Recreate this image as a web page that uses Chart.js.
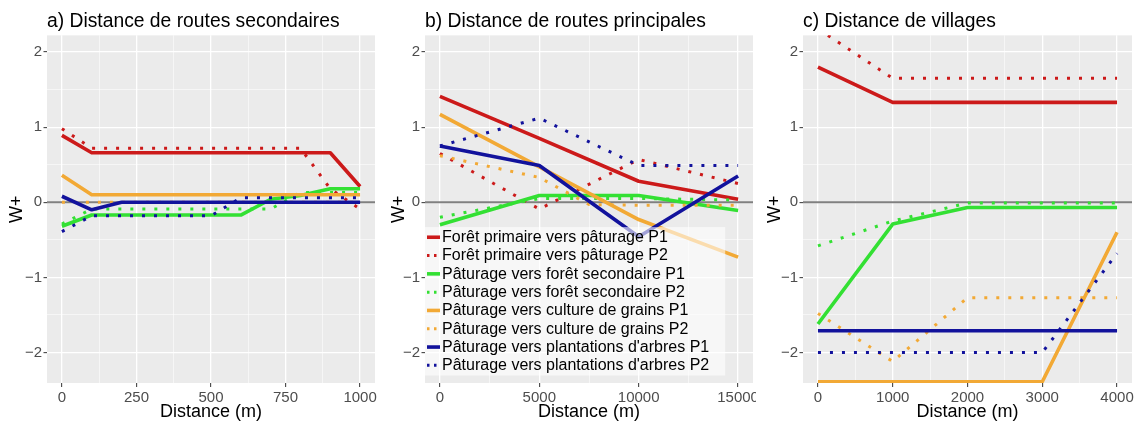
<!DOCTYPE html>
<html lang="fr">
<head>
<meta charset="utf-8">
<title>Poids d'évidence W+ selon la distance</title>
<script src="https://cdn.jsdelivr.net/npm/chart.js@4.4.1/dist/chart.umd.min.js"></script>
<style>
  html, body { margin: 0; padding: 0; background: #ffffff; }
  #wrap { position: relative; width: 1139px; height: 424px; overflow: hidden; }
  #wrap canvas { position: absolute; top: 0; }
</style>
</head>
<body>
<div id="wrap">
  <canvas id="panelA" width="380" height="424" style="left:0px"></canvas>
  <canvas id="panelB" width="374" height="424" style="left:382px"></canvas>
  <canvas id="panelC" width="381" height="424" style="left:758px"></canvas>
</div>
<script>
// ---- Series labels and styles ----
const seriesLabels = [
  "Forêt primaire vers pâturage P1",
  "Forêt primaire vers pâturage P2",
  "Pâturage vers forêt secondaire P1",
  "Pâturage vers forêt secondaire P2",
  "Pâturage vers culture de grains P1",
  "Pâturage vers culture de grains P2",
  "Pâturage vers plantations d'arbres P1",
  "Pâturage vers plantations d'arbres P2"
];
const seriesColors = ["#CC1A1A", "#CC1A1A", "#33E033", "#33E033", "#F2A935", "#F2A935", "#12129C", "#12129C"];

// ---- Shared W+ axis ----
const yTicks = [-2, -1, 0, 1, 2];
const yMinor = [-1.5, -0.5, 0.5, 1.5];
const yRange = [-2.406, 2.222];

// ---- a) Distance de routes secondaires : [distance (m), W+] ----
const xTicksA = [0, 250, 500, 750, 1000];
const a_fpP1  = [[0, 0.89], [100, 0.66], [900, 0.66], [1000, 0.21]];
const a_fpP2  = [[0, 0.98], [100, 0.72], [800, 0.72], [900, 0.18], [1000, -0.09]];
const a_pfsP1 = [[0, -0.32], [100, -0.17], [600, -0.17], [700, 0.04], [800, 0.09], [900, 0.18], [1000, 0.18]];
const a_pfsP2 = [[0, -0.29], [100, -0.09], [700, -0.09], [800, 0.13], [1000, 0.13]];
const a_pcgP1 = [[0, 0.36], [100, 0.10], [1000, 0.10]];
const a_pcgP2 = [[0, 0.00], [1000, 0.00]];
const a_ppaP1 = [[0, 0.08], [100, -0.10], [200, 0.00], [1000, 0.00]];
const a_ppaP2 = [[0, -0.39], [100, -0.18], [500, -0.18], [600, 0.06], [1000, 0.06]];

// ---- b) Distance de routes principales ----
const xTicksB = [0, 5000, 10000, 15000];
const b_fpP1  = [[0, 1.41], [5000, 0.85], [10000, 0.28], [15000, 0.04]];
const b_fpP2  = [[0, 0.65], [5000, -0.09], [10000, 0.57], [15000, 0.25]];
const b_pfsP1 = [[0, -0.30], [5000, 0.09], [10000, 0.09], [15000, -0.11]];
const b_pfsP2 = [[0, -0.20], [5000, 0.05], [10000, 0.05], [15000, 0.03]];
const b_pcgP1 = [[0, 1.17], [5000, 0.47], [10000, -0.23], [15000, -0.73]];
const b_pcgP2 = [[0, 0.62], [5000, 0.33], [7500, -0.03], [10000, -0.04], [15000, -0.04]];
const b_ppaP1 = [[0, 0.75], [5000, 0.49], [10000, -0.46], [15000, 0.35]];
const b_ppaP2 = [[0, 0.75], [5000, 1.12], [10000, 0.49], [15000, 0.49]];

// ---- c) Distance de villages ----
const xTicksC = [0, 1000, 2000, 3000, 4000];
const c_fpP1  = [[0, 1.80], [1000, 1.33], [4000, 1.33]];
const c_fpP2  = [[0, 2.31], [1000, 1.65], [4000, 1.65]];
const c_pfsP1 = [[0, -1.62], [1000, -0.29], [2000, -0.07], [4000, -0.07]];
const c_pfsP2 = [[0, -0.58], [1000, -0.25], [2000, -0.01], [4000, -0.01]];
const c_pcgP1 = [[0, -2.39], [3000, -2.39], [4000, -0.40]];
const c_pcgP2 = [[0, -1.48], [1000, -2.12], [2000, -1.27], [4000, -1.27]];
const c_ppaP1 = [[0, -1.71], [4000, -1.71]];
const c_ppaP2 = [[0, -2.00], [3000, -2.00], [4000, -0.68]];

const FONT = "'Liberation Sans', Arial, Helvetica, sans-serif";
Chart.defaults.font.family = FONT;

// Grey panel background behind the grid
const panelBackground = {
  id: 'panelBackground',
  beforeDraw(chart) {
    const { ctx, chartArea: a } = chart;
    ctx.save();
    ctx.fillStyle = '#EBEBEB';
    ctx.fillRect(a.left, a.top, a.right - a.left, a.bottom - a.top);
    ctx.restore();
  }
};

// Semi-transparent legend drawn inside the plotting area
const insetLegend = {
  id: 'insetLegend',
  afterDatasetsDraw(chart, args, opts) {
    if (!opts.display) return;
    const { ctx, chartArea: area } = chart;
    const items = chart.data.datasets.filter(d => d.label);
    ctx.save();
    ctx.font = opts.fontSize + 'px ' + FONT;
    const textW = Math.max(...items.map(d => ctx.measureText(d.label).width));
    const pad = opts.padding;
    const h = items.length * opts.rowHeight + 2 * pad;
    const left = area.left;
    const top = area.bottom - opts.bottomGap - h;
    const textX = left + opts.keyWidth + 4;
    const w = textX - left + textW + opts.rightPad;
    ctx.fillStyle = opts.background;
    ctx.fillRect(left, top, w, h);
    items.forEach((d, i) => {
      const cy = top + pad + (i + 0.5) * opts.rowHeight;
      ctx.beginPath();
      ctx.strokeStyle = d.borderColor;
      ctx.lineWidth = d.borderWidth;
      ctx.lineCap = 'butt';
      ctx.setLineDash(d.borderDash && d.borderDash.length ? [2.5, 4.5] : []);
      ctx.moveTo(left + 2, cy);
      ctx.lineTo(left + opts.keyWidth + 2, cy);
      ctx.stroke();
      ctx.setLineDash([]);
      ctx.fillStyle = '#000000';
      ctx.textAlign = 'left';
      ctx.textBaseline = 'middle';
      ctx.fillText(d.label, textX, cy + 0.5);
    });
    ctx.restore();
  }
};

function buildDatasets(series, xMin, xMax) {
  const ds = series.map((pts, i) => ({
    label: seriesLabels[i],
    data: pts,
    borderColor: seriesColors[i],
    backgroundColor: seriesColors[i],
    borderWidth: i % 2 === 0 ? 3.6 : 3,
    borderDash: i % 2 === 0 ? [] : [3, 9],
    borderCapStyle: 'butt',
    borderJoinStyle: 'round',
    pointRadius: 0,
    tension: 0,
    fill: false,
    clip: 0,
    order: -i
  }));
  // horizontal reference at W+ = 0
  ds.push({
    label: '',
    data: [[xMin, 0], [xMax, 0]],
    borderColor: '#808080',
    borderWidth: 1.8,
    pointRadius: 0,
    fill: false,
    clip: 0,
    order: 100
  });
  return ds;
}

function withMinor(major) {
  const out = [];
  for (let i = 0; i < major.length; i++) {
    out.push(major[i]);
    if (i < major.length - 1) out.push((major[i] + major[i + 1]) / 2);
  }
  return out;
}

// tick labels use a true minus sign for negative values
const fmt = v => String(v).replace('-', '\u2212');

function makePanel(canvasId, p) {
  const xAll = withMinor(p.xTicks);
  const yAll = yTicks.concat(yMinor).sort((a, b) => a - b);
  const isMajorX = v => p.xTicks.includes(v);
  const isMajorY = v => yTicks.includes(v);
  return new Chart(document.getElementById(canvasId), {
    type: 'line',
    data: { datasets: buildDatasets(p.series, p.xMin, p.xMax) },
    plugins: [panelBackground, insetLegend],
    options: {
      responsive: false,
      animation: false,
      devicePixelRatio: 1,
      layout: { padding: { left: 0, right: p.padRight, top: 0, bottom: 0 } },
      scales: {
        x: {
          type: 'linear',
          min: p.xMin,
          max: p.xMax,
          afterBuildTicks: s => { s.ticks = xAll.map(v => ({ value: v })); },
          afterFit: s => { s.height = 41; s.paddingLeft = 0; s.paddingRight = 0; },
          border: { display: false },
          grid: {
            color: c => isMajorX(c.tick.value) ? '#FFFFFF' : 'rgba(255,255,255,0.85)',
            lineWidth: c => isMajorX(c.tick.value) ? 1.3 : 0.65,
            tickLength: 4,
            tickWidth: 1,
            tickColor: c => isMajorX(c.tick.value) ? '#333333' : 'rgba(0,0,0,0)'
          },
          ticks: {
            autoSkip: false,
            maxRotation: 0,
            padding: 2,
            color: '#4D4D4D',
            font: { size: 15 },
            callback: v => isMajorX(v) ? fmt(v) : ''
          },
          title: {
            display: true,
            text: 'Distance (m)',
            color: '#000000',
            font: { size: 18 },
            padding: { top: 0, bottom: 1 }
          }
        },
        y: {
          type: 'linear',
          min: yRange[0],
          max: yRange[1],
          afterBuildTicks: s => { s.ticks = yAll.map(v => ({ value: v })); },
          afterFit: s => { s.width = p.yAxisWidth; s.paddingTop = 0; s.paddingBottom = 0; },
          border: { display: false },
          grid: {
            color: c => isMajorY(c.tick.value) ? '#FFFFFF' : 'rgba(255,255,255,0.85)',
            lineWidth: c => isMajorY(c.tick.value) ? 1.3 : 0.65,
            tickLength: 3.5,
            tickWidth: 1,
            tickColor: c => isMajorY(c.tick.value) ? '#333333' : 'rgba(0,0,0,0)'
          },
          ticks: {
            autoSkip: false,
            padding: 1.5,
            color: '#4D4D4D',
            font: { size: 15 },
            callback: v => isMajorY(v) ? fmt(v) : ''
          },
          title: {
            display: true,
            text: 'W+',
            color: '#000000',
            font: { size: 18 },
            padding: { top: 6, bottom: 0 }
          }
        }
      },
      plugins: {
        legend: { display: false },
        tooltip: { enabled: false },
        title: {
          display: true,
          text: p.title,
          align: 'start',
          fullSize: false,
          color: '#000000',
          font: { size: 19.3, weight: 'normal' },
          padding: { top: 10, bottom: 2.2 }
        },
        insetLegend: {
          display: !!p.legend,
          fontSize: 16,
          rowHeight: 18.3,
          padding: 1,
          bottomGap: 7.5,
          keyWidth: 13,
          rightPad: 16,
          background: 'rgba(255,255,255,0.6)'
        }
      }
    }
  });
}

makePanel('panelA', {
  title: 'a) Distance de routes secondaires',
  xTicks: xTicksA, xMin: -50, xMax: 1050,
  yAxisWidth: 47, padRight: 5,
  series: [a_fpP1, a_fpP2, a_pfsP1, a_pfsP2, a_pcgP1, a_pcgP2, a_ppaP1, a_ppaP2]
});
makePanel('panelB', {
  title: 'b) Distance de routes principales',
  xTicks: xTicksB, xMin: -750, xMax: 15750,
  yAxisWidth: 43, padRight: 3, legend: true,
  series: [b_fpP1, b_fpP2, b_pfsP1, b_pfsP2, b_pcgP1, b_pcgP2, b_ppaP1, b_ppaP2]
});
makePanel('panelC', {
  title: 'c) Distance de villages',
  xTicks: xTicksC, xMin: -200, xMax: 4200,
  yAxisWidth: 45, padRight: 7,
  series: [c_fpP1, c_fpP2, c_pfsP1, c_pfsP2, c_pcgP1, c_pcgP2, c_ppaP1, c_ppaP2]
});
</script>
</body>
</html>
